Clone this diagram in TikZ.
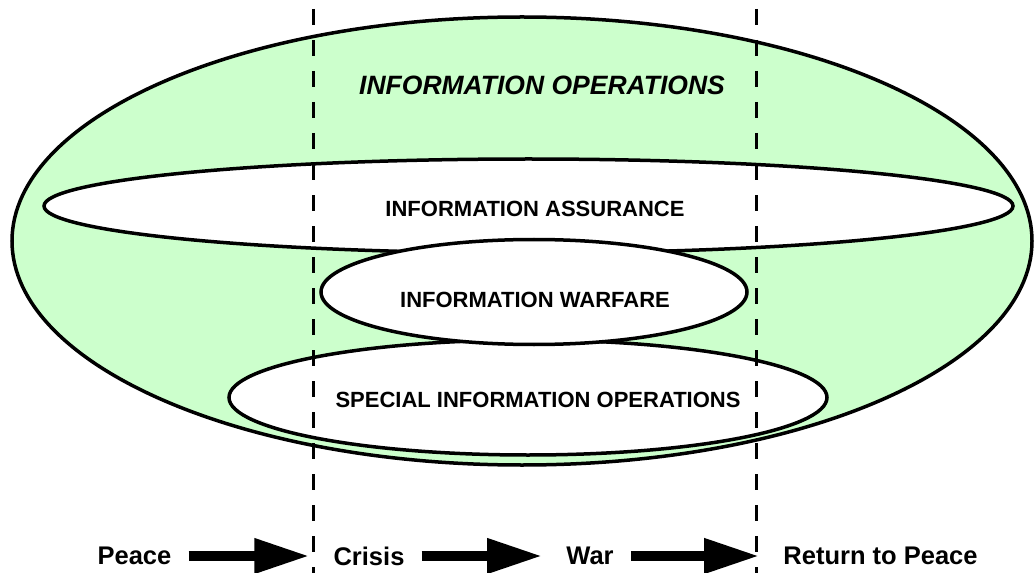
\documentclass[tikz,border=0pt]{standalone}
\usepackage{fontspec}
\setmainfont{Liberation Sans}
\usetikzlibrary{arrows.meta}
\definecolor{opsgreen}{HTML}{CCFFCC}
\tikzset{
  region/.style={draw=black, line width=3.5bp},
  label/.style={font=\fontsize{22bp}{26bp}\selectfont\bfseries, inner sep=0pt},
  phase/.style={font=\fontsize{25.5bp}{30bp}\selectfont\bfseries, inner sep=0pt},
  phasearrow/.style={line width=10bp, -{Triangle[length=55bp,width=33bp]}, shorten <=17bp, shorten >=24bp},
  divider/.style={line width=3bp, dash pattern=on 16bp off 15bp}
}
\begin{document}
\begin{tikzpicture}[x=1bp,y=-1bp]
\useasboundingbox (0,0) rectangle (1034,573);
% nested regions
\draw[region, fill=opsgreen] (522,241) ellipse [x radius=510, y radius=224];
\draw[region, fill=white] (528.5,206) ellipse [x radius=484.5, y radius=47];
\draw[region, fill=white] (528,397.5) ellipse [x radius=299, y radius=57.5];
\draw[region, fill=white] (534,292) ellipse [x radius=213, y radius=52.5];
\node[label, font=\fontsize{26.5bp}{30bp}\selectfont\bfseries\itshape] (ops) at (542,85) {INFORMATION OPERATIONS};
\node[label] (assure) at (535,209) {INFORMATION ASSURANCE};
\node[label] (warfare) at (535,300) {INFORMATION WARFARE};
\node[label] (special) at (538,400) {SPECIAL INFORMATION OPERATIONS};
% phase dividers
\foreach \x in {313,756} {\draw[divider] (\x,9) -- (\x,573);}
% phases
\node[phase] (peace) at (134.5,556) {Peace};
\node[phase] (crisis) at (369,556) {Crisis};
\node[phase] (war) at (590,556) {War};
\node[phase] (return) at (880.5,556) {Return to Peace};
\draw[phasearrow] (peace) -- (crisis);
\draw[phasearrow] (crisis) -- (war);
\draw[phasearrow] (war) -- (return);
\end{tikzpicture}
\end{document}
